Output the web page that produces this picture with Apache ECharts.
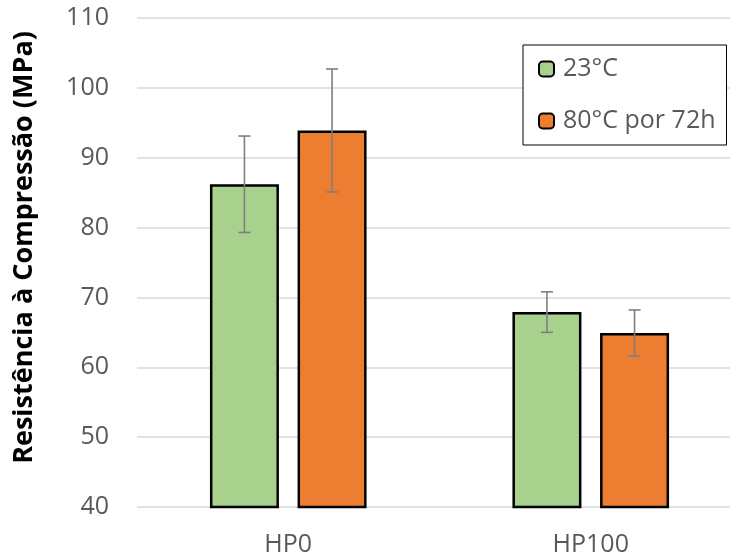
<!DOCTYPE html>
<html>
<head>
<meta charset="utf-8">
<script src="https://cdn.jsdelivr.net/npm/echarts@6/dist/echarts.min.js"></script>
<style>
  html, body { margin: 0; padding: 0; background: #fff; }
  #chart { width: 730px; height: 558px; }
</style>
</head>
<body>
<div id="chart"></div>
<script>
// Compressive strength (MPa) per mix, with standard deviation
const categories = ['HP0', 'HP100'];
const seriesNames = ['23°C', '80°C por 72h'];
const values23 = [86.2, 67.9];
const values80 = [93.9, 64.9];
const sd23 = [6.9, 2.9];
const sd80 = [8.8, 3.3];
const yTicks = { min: 40, max: 110, interval: 10 };

const FONT = '"Open Sans", "Noto Sans", sans-serif';
const BAR_W = 69;
const BAR_GAP = 0.27; // gap between the two bars, as a fraction of bar width
const offset = (BAR_W + BAR_W * BAR_GAP) / 2;

function errorSeries(name, means, sds, shift) {
  return {
    name: name + ' sd',
    type: 'custom',
    z: 10,
    silent: true,
    data: means.map((m, i) => [i, m - sds[i], m + sds[i]]),
    renderItem: function (params, api) {
      const lo = api.coord([api.value(0), api.value(1)]);
      const hi = api.coord([api.value(0), api.value(2)]);
      const x = lo[0] + shift;
      const cap = 6;
      const style = { stroke: '#7f7f7f', lineWidth: 1.6 };
      return {
        type: 'group',
        children: [
          { type: 'line', shape: { x1: x, y1: lo[1], x2: x, y2: hi[1] }, style },
          { type: 'line', shape: { x1: x - cap, y1: lo[1], x2: x + cap, y2: lo[1] }, style },
          { type: 'line', shape: { x1: x - cap, y1: hi[1], x2: x + cap, y2: hi[1] }, style }
        ]
      };
    }
  };
}

const chart = echarts.init(document.getElementById('chart'), null, { renderer: 'canvas' });
chart.setOption({
  animation: false,
  backgroundColor: '#fff',
  grid: { left: 137, right: -12, top: 18, bottom: 51, outerBoundsMode: 'none', containLabel: false },
  legend: {
    data: seriesNames,
    orient: 'vertical',
    left: 523,
    top: 45,
    padding: [11, 11, 11, 15],
    itemGap: 26,
    itemWidth: 15,
    itemHeight: 15,
    borderColor: '#000',
    borderWidth: 1,
    backgroundColor: '#fff',
    itemStyle: { borderColor: '#000', borderWidth: 2 },
    textStyle: { fontFamily: FONT, fontSize: 25, color: '#595959', lineHeight: 26, padding: [0, 0, 0, 4] }
  },
  xAxis: {
    type: 'category',
    data: categories,
    axisLine: { show: false },
    axisTick: { show: false },
    axisLabel: { fontFamily: FONT, fontSize: 25, color: '#595959', margin: 25 }
  },
  yAxis: {
    type: 'value',
    min: yTicks.min,
    max: yTicks.max,
    interval: yTicks.interval,
    name: 'Resistência à Compressão (MPa)',
    nameLocation: 'middle',
    nameGap: 99,
    nameTextStyle: { fontFamily: FONT, fontSize: 27, fontWeight: 'bold', color: '#000', padding: [0, 0, 0, 30] },
    axisLine: { show: false },
    axisTick: { show: false },
    axisLabel: { fontFamily: FONT, fontSize: 25, color: '#595959', margin: 28 },
    splitLine: { lineStyle: { color: '#d9d9d9', width: 1.5 } }
  },
  series: [
    {
      name: seriesNames[0],
      type: 'bar',
      data: values23,
      barWidth: BAR_W,
      barGap: (BAR_GAP * 100) + '%',
      itemStyle: { color: '#a9d18e', borderColor: '#000', borderWidth: 2.5 }
    },
    {
      name: seriesNames[1],
      type: 'bar',
      data: values80,
      barWidth: BAR_W,
      barGap: (BAR_GAP * 100) + '%',
      itemStyle: { color: '#ed7d31', borderColor: '#000', borderWidth: 2.5 }
    },
    errorSeries(seriesNames[0], values23, sd23, -offset),
    errorSeries(seriesNames[1], values80, sd80, offset)
  ]
});
</script>
</body>
</html>
